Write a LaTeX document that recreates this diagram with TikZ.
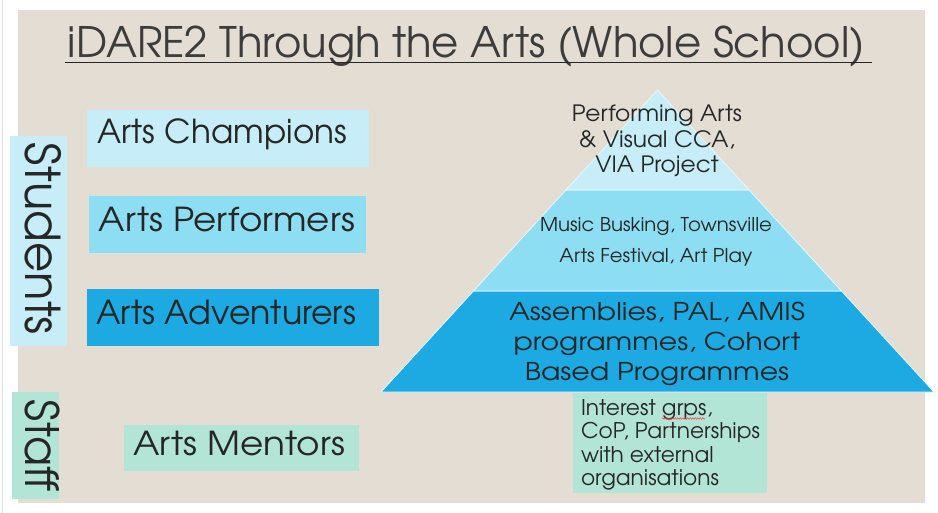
\documentclass[tikz,border=0pt]{standalone}
\usepackage{fontspec}
\setmainfont{TeX Gyre Adventor}
\usepackage{graphicx}
\usetikzlibrary{decorations.pathmorphing}
\definecolor{beige}{HTML}{E3DDD3}
\definecolor{tierA}{HTML}{C6EDF8}
\definecolor{tierB}{HTML}{8DDDF3}
\definecolor{tierC}{HTML}{1DAAE2}
\definecolor{mint}{HTML}{B3E5D7}
\definecolor{ink}{HTML}{262626}
\newcommand{\fw}[3]{\resizebox{#1}{\height}{\fontsize{#2}{#2}\selectfont #3}}
\newcommand{\fwt}[5]{\resizebox{#1}{\height}{\fontsize{#2}{#3}\selectfont\begin{tabular}[t]{@{}#4@{}}#5\end{tabular}}}
\tikzset{
  lbl/.style={inner sep=0pt, outer sep=0pt, text=ink},
  tier/.style={draw=white!60!tierA, line width=0.8pt},
}
\begin{document}
\begin{tikzpicture}[x=1pt,y=-1pt]
\useasboundingbox (0,0) rectangle (938,513);
\fill[white] (0,0) rectangle (938,513);
\draw[gray!25, line width=0.8pt] (2.5,0) -- (2.5,513);
\fill[beige] (18,10) rectangle (925,503);
% title
\node[lbl, anchor=base, text=ink!90] (title) at (466.5,58) {\fw{797pt}{42}{iDARE2 Through the Arts (Whole School)}};
\draw[ink, line width=1.5pt] (65,62.5) -- (872,62.5);
% side labels
\fill[tierA] (10,136) rectangle (67,346);
\node[lbl, rotate=-90] (students) at (43.5,239) {\fw{192pt}{48}{Students}};
\fill[mint] (12,392) rectangle (59,499);
\node[lbl, rotate=-90] (staff) at (42,446) {\fw{92pt}{46}{Staff}};
% level boxes
\fill[tierA] (87,110) rectangle (369,167);
\node[lbl, anchor=base west] (champ) at (97,144) {\fw{250pt}{33}{Arts Champions}};
\fill[tierB] (89,196) rectangle (366,253);
\node[lbl, anchor=base west] (perf) at (99,232) {\fw{256pt}{33}{Arts Performers}};
\fill[tierC] (87,289) rectangle (379,346);
\node[lbl, anchor=base west] (adv) at (96,325) {\fw{260pt}{33}{Arts Adventurers}};
\fill[mint] (124,425) rectangle (359,471);
\node[lbl, anchor=base west] (ment) at (133,455) {\fw{212pt}{33}{Arts Mentors}};
% pyramid
\filldraw[tier, fill=tierC] (473.5,291) -- (841.5,291) -- (934,392) -- (381,392) -- cycle;
\filldraw[tier, fill=tierB] (565.9,190) -- (749.1,190) -- (841.5,291) -- (473.5,291) -- cycle;
\filldraw[tier, fill=tierA] (657.5,90) -- (749.1,190) -- (565.9,190) -- cycle;
\node[lbl, anchor=base] (top) at (657,122) {\fwt{170pt}{22.5}{25.5}{c}{Performing Arts\\ \& Visual CCA,\\ VIA Project}};
\node[lbl, anchor=base] (mid) at (656,232) {\fwt{232pt}{19}{30}{c}{Music Busking, Townsville\\ Arts Festival, Art Play}};
\node[lbl, anchor=base] (bot) at (657,320) {\fwt{296pt}{24.5}{30}{c}{Assemblies, PAL, AMIS\\ programmes, Cohort\\ Based Programmes}};
% staff activities
\fill[mint] (573,393) rectangle (767,493);
\node[lbl, anchor=base west] (ext) at (581,415) {\fwt{179pt}{21.6}{23.5}{l}{Interest grps,\\ CoP, Partnerships\\ with external\\ organisations}};
\draw[red!80, line width=0.5pt, decorate, decoration={snake, amplitude=0.7pt, segment length=2.5pt}] (662,418.5) -- (705,418.5);
\end{tikzpicture}
\end{document}
